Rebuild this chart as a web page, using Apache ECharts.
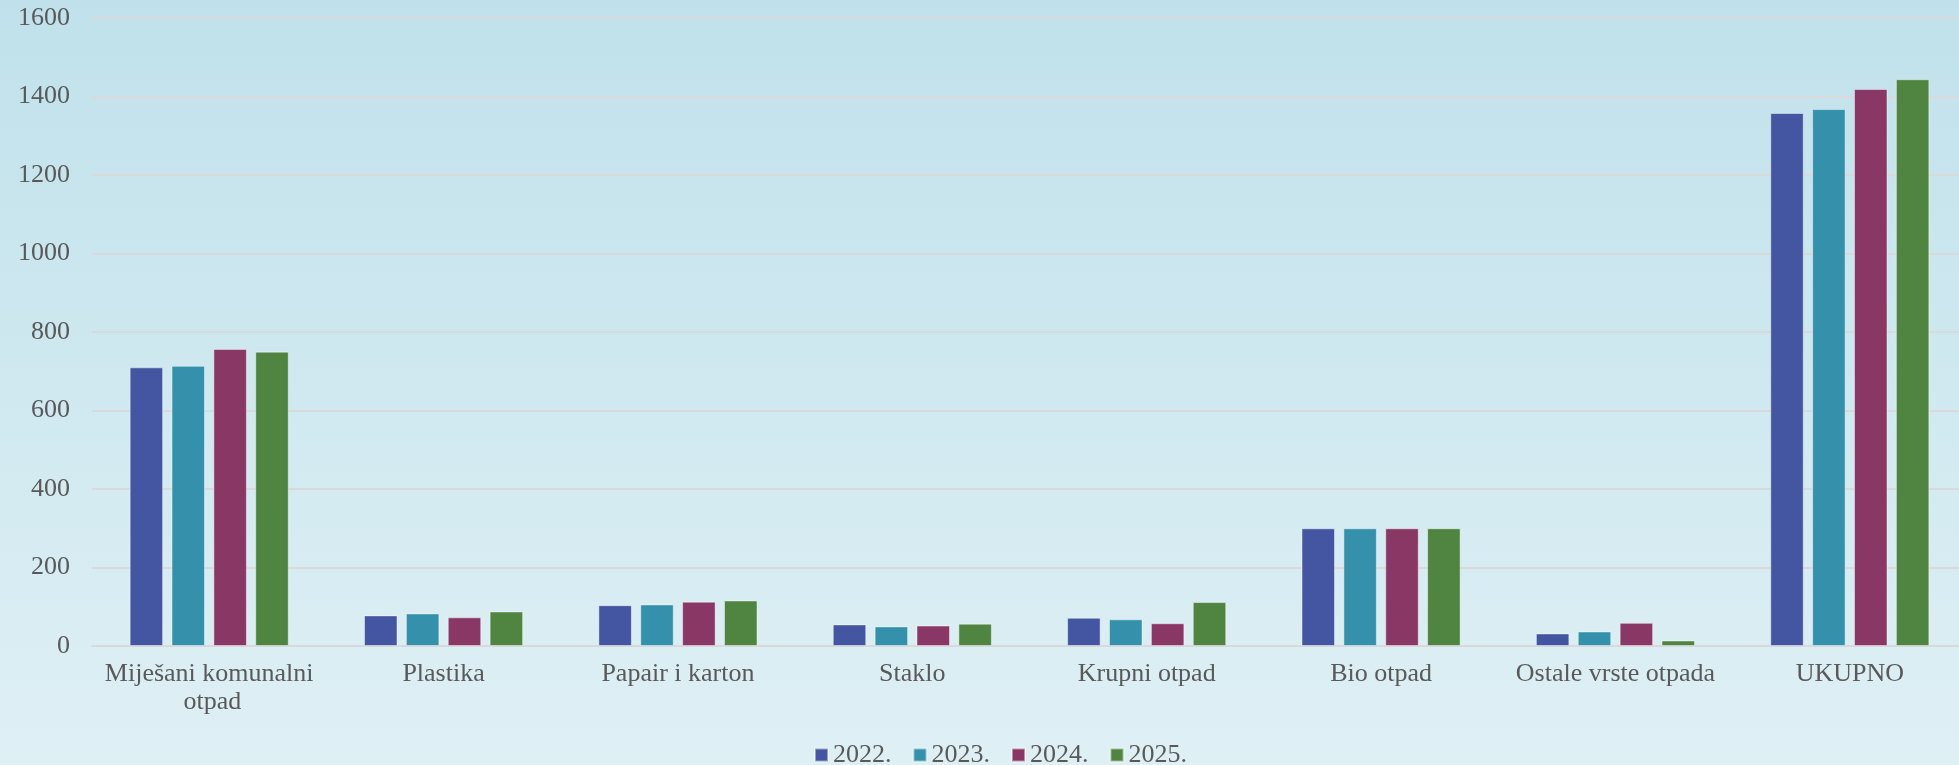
<!DOCTYPE html>
<html>
<head>
<meta charset="utf-8">
<script src="https://cdn.jsdelivr.net/npm/echarts@6/dist/echarts.min.js"></script>
<style>
html,body{margin:0;padding:0;}
#c{width:1959px;height:765px;}
</style>
</head>
<body>
<div id="c"></div>
<script>
const categories = ["Miješani komunalni otpad","Plastika","Papair i karton","Staklo","Krupni otpad","Bio otpad","Ostale vrste otpada","UKUPNO"];
const seriesNames = ["2022.","2023.","2024.","2025."];
const v2022 = [710, 78, 104, 55, 72, 300, 32, 1358];
const v2023 = [714, 83, 106, 50, 68, 300, 37, 1368];
const v2024 = [757, 73, 113, 52, 58, 300, 59, 1419];
const v2025 = [750, 88, 116, 57, 112, 300, 14, 1444];
const yTicks = [0, 200, 400, 600, 800, 1000, 1200, 1400, 1600];
const colors = ["#4456a1", "#3591ab", "#893765", "#4f8540"];

const font = "'Liberation Serif', 'DejaVu Serif', serif";
const values = [v2022, v2023, v2024, v2025];

const chart = echarts.init(document.getElementById('c'));
chart.setOption({
  backgroundColor: {
    type: 'linear', x: 0, y: 0, x2: 0, y2: 1,
    colorStops: [{offset: 0, color: '#c0e1eb'}, {offset: 1, color: '#dff0f5'}]
  },
  animation: false,
  color: colors,
  textStyle: {fontFamily: font},
  legend: {
    bottom: -8,
    left: 809,
    itemWidth: 13,
    itemHeight: 13,
    itemGap: 21,
    icon: 'rect',
    textStyle: {fontFamily: font, fontSize: 26, color: '#595959'},
    data: seriesNames
  },
  grid: {left: 92, top: 18, width: 1875, bottom: 119, containLabel: false, outerBoundsMode: 'none'},
  xAxis: {
    type: 'category',
    data: categories,
    axisLine: {lineStyle: {color: '#d9d9d9', width: 2}},
    axisTick: {show: false},
    axisLabel: {
      fontFamily: font, fontSize: 26, color: '#595959',
      margin: 14, lineHeight: 28, width: 225, overflow: 'break', interval: 0
    }
  },
  yAxis: {
    type: 'value',
    min: yTicks[0], max: yTicks[yTicks.length - 1], interval: 200,
    axisLine: {show: false},
    axisTick: {show: false},
    splitLine: {lineStyle: {color: '#d9d9d9', width: 2}},
    axisLabel: {fontFamily: font, fontSize: 26, color: '#595959', margin: 22, formatter: v => String(v)}
  },
  series: seriesNames.map((n, i) => ({
    name: n,
    type: 'bar',
    data: values[i],
    barWidth: 33.5,
    barGap: '25%',
    itemStyle: {color: colors[i], borderColor: 'rgba(255,255,255,0.45)', borderWidth: 1}
  }))
});
</script>
</body>
</html>
